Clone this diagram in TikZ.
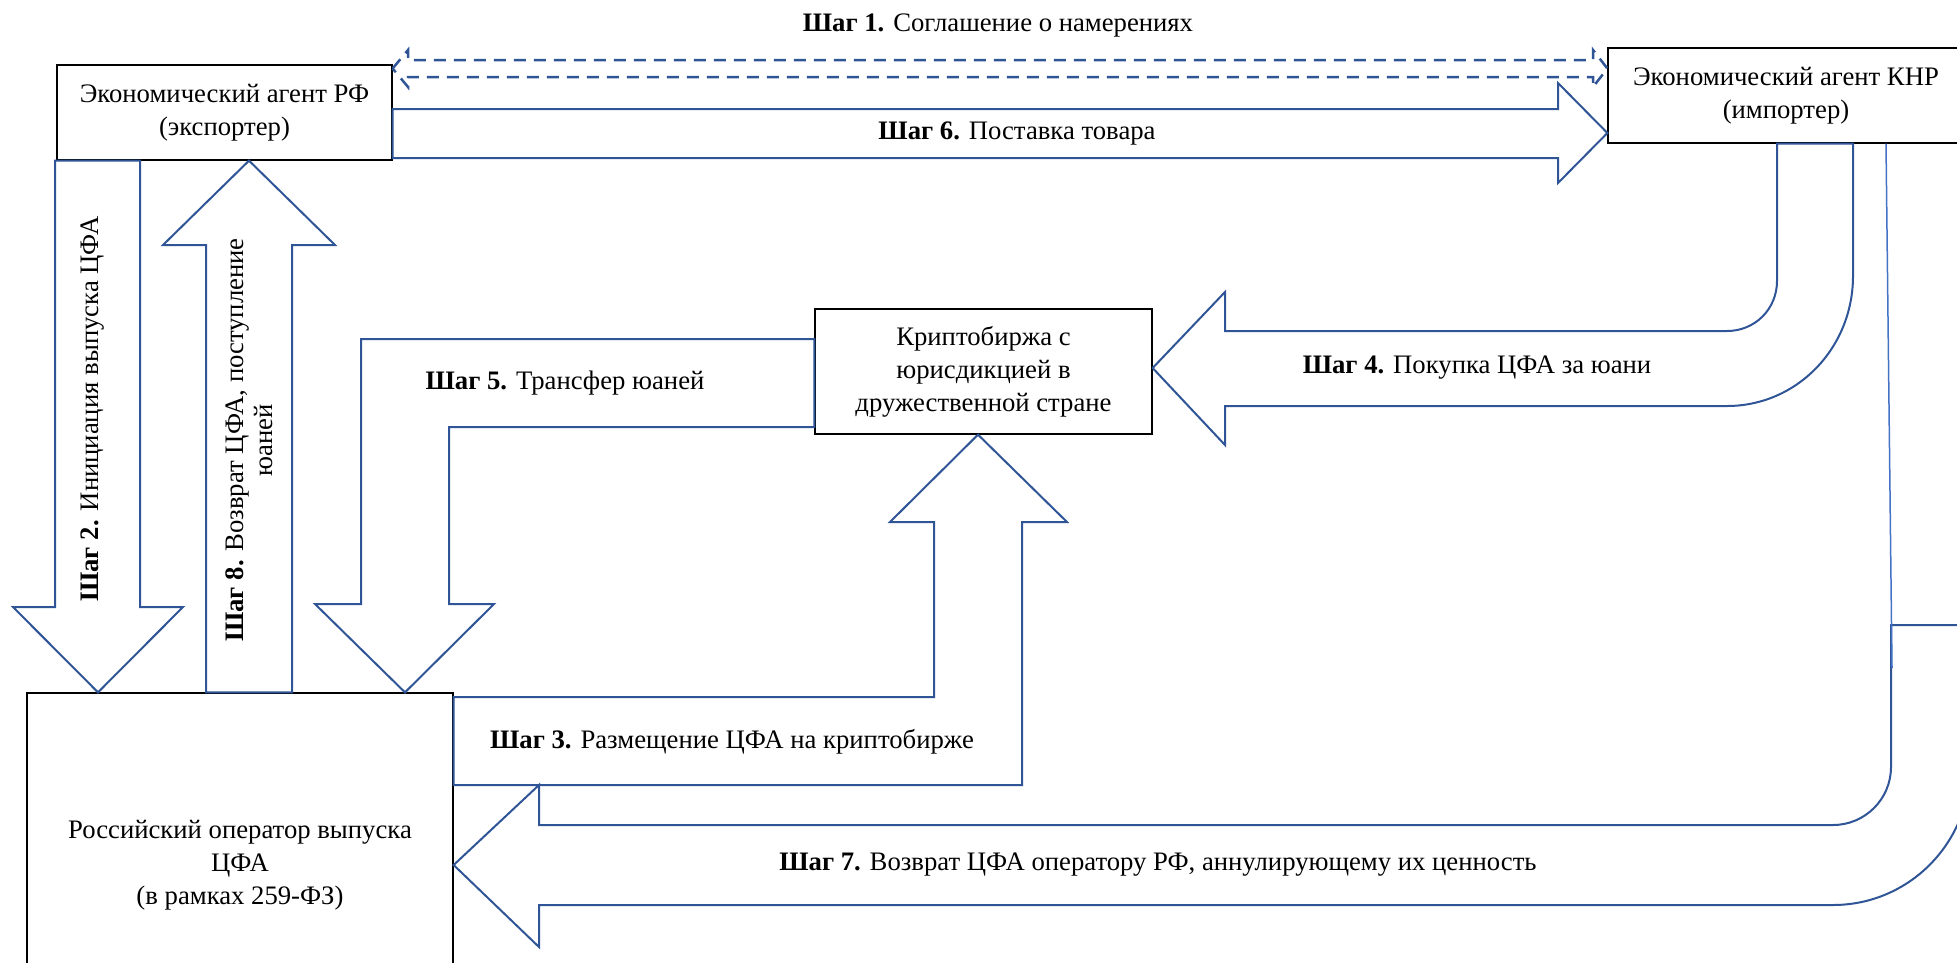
\documentclass[tikz,border=0pt]{standalone}
\usepackage{fontspec}
\setmainfont{Liberation Serif}
\usepackage{xcolor}
\usepackage{tikz}
\definecolor{arrblue}{HTML}{2F5597}
\definecolor{lineblue}{HTML}{4472C4}

\begin{document}
\begin{tikzpicture}[x=1pt, y=-1pt, font=\fontsize{26.7pt}{33pt}\selectfont, box/.style = {draw, line width=1.3pt, align=center, inner sep=0pt}, arr/.style = {draw=arrblue, line width=2pt}, dsh/.style = {draw=arrblue, line width=2.5pt, dash pattern=on 12pt off 8pt}]
\clip (0,0) rectangle (1957,962);
\node[box, minimum width=335pt, minimum height=95pt] (1) at (224.5,112.5) {Экономический агент РФ\\(экспортер)};
\node[box, minimum width=356pt, minimum height=95pt] (2) at (1786,95.5) {Экономический агент КНР\\(импортер)};
\node[box, minimum width=337pt, minimum height=125pt] (3) at (983.5,371.5) {Криптобиржа с\\юрисдикцией в\\дружественной стране};
\node[box, minimum width=426pt, minimum height=344pt] (4) at (240,865) {Российский оператор выпуска\\ЦФА\\(в рамках 259-ФЗ)};
\coordinate (5) at (1892,668);
\draw[dsh] (1.east |- 0,68.5) -- (408,50) -- (408,60) -- (1593,60) -- (1593,50) -- (2.west |- 0,68.5) -- (1593,87) -- (1593,77) -- (408,77) -- (408,87) -- cycle;
\draw[arr] (1.east |- 0,109) -- (1558,109) -- (1558,83) -- (2.west |- 0,133) -- (1558,183) -- (1558,158) -- (1.east |- 0,158) -- cycle;
\draw[arr] (1.south -| 55,0) -- (55,607) -- (13,607) -- (4.north -| 98,0) -- (183,607) -- (140,607) -- (1.south -| 140,0) -- cycle;
\draw[arr] (4.north -| 206,0) -- (206,245) -- (163,245) -- (1.south -| 249,0) -- (335,245) -- (292,245) -- (4.north -| 292,0) -- cycle;
\draw[arr] (4.east |- 0,697) -- (934,697) -- (934,522) -- (890,522) -- (3.south -| 978,0) -- (1067,522) -- (1022,522) -- (1022,785) -- (4.east |- 0,785) -- cycle;
\draw[arr] (3.west |- 0,339) -- (361,339) -- (361,604) -- (315,604) -- (4.north -| 405,0) -- (494,604) -- (449,604) -- (449,427) -- (3.west |- 0,427) -- cycle;
\draw[arr] (2.south -| 1777,0) -- (1777,281) .. controls (1777,309) and (1755,331) .. (1727,331) -- (1225,331) -- (1225,292) -- (3.east |- 0,368) -- (1225,445) -- (1225,406) -- (1727,406) .. controls (1797,406) and (1853,348) .. (1853,276) -- (2.south -| 1853,0) -- cycle;
\draw[arr] (1891,625) -- (1970,625) -- (1970,767) .. controls (1970,843) and (1909,905) .. (1833,905) -- (539,905) -- (539,947) -- (4.east) -- (539,785) -- (539,825) -- (1833,825) .. controls (1865,825) and (1891,799) .. (1891,767) -- cycle;
\draw[lineblue, line width=1.5pt] (2.south -| 1886,0) -- (5);
\node (6) at (998,25) {\textbf{Шаг 1.} Соглашение о намерениях};
\node (7) at (1017,133) {\textbf{Шаг 6.} Поставка товара};
\node[rotate=90] (8) at (93,409) {\textbf{Шаг 2.} Инициация выпуска ЦФА};
\node[rotate=90, align=center, font=\fontsize{26.7pt}{29pt}\selectfont] (9) at (249,440) {\textbf{Шаг 8.} Возврат ЦФА, поступление\\юаней};
\node (10) at (565,383) {\textbf{Шаг 5.} Трансфер юаней};
\node (11) at (732,742) {\textbf{Шаг 3.} Размещение ЦФА на криптобирже};
\node (12) at (1477,368) {\textbf{Шаг 4.} Покупка ЦФА за юани};
\node (13) at (1158,865) {\textbf{Шаг 7.} Возврат ЦФА оператору РФ, аннулирующему их ценность};
\end{tikzpicture}
\end{document}
